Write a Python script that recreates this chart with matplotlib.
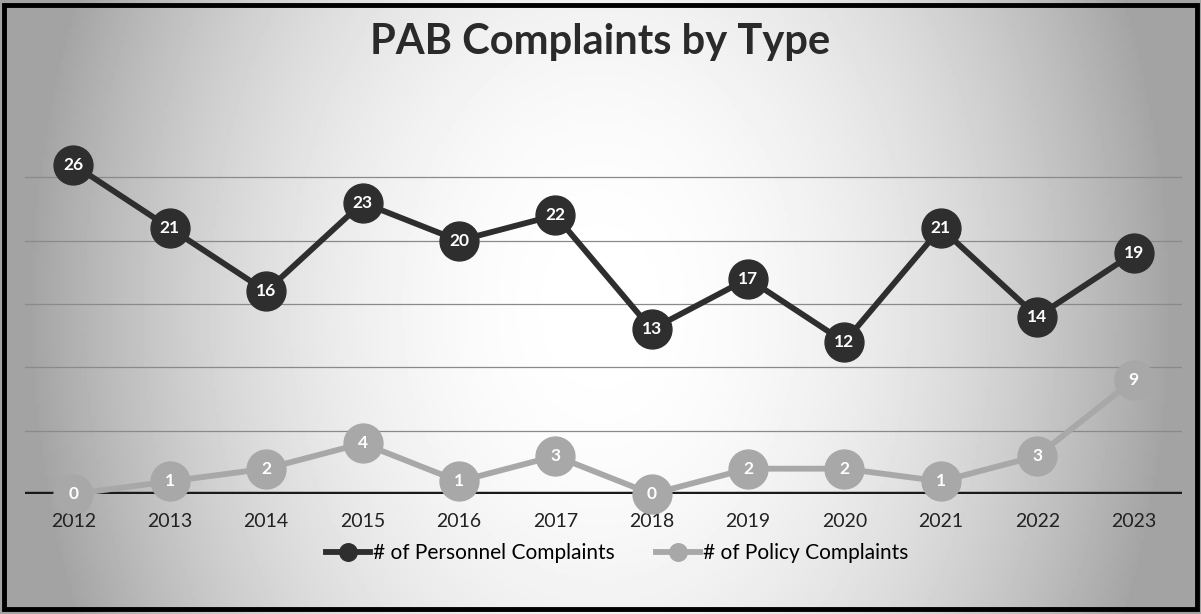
import numpy as np
import matplotlib.pyplot as plt
from matplotlib.patches import Rectangle

plt.rcParams['font.family'] = ['Lato', 'DejaVu Sans']

years = ['2012', '2013', '2014', '2015', '2016', '2017',
         '2018', '2019', '2020', '2021', '2022', '2023']
personnel = [26, 21, 16, 23, 20, 22, 13, 17, 12, 21, 14, 19]
policy = [0, 1, 2, 4, 1, 3, 0, 2, 2, 1, 3, 9]

dark = '#2e2e2e'
light = '#a8a8a8'

fig = plt.figure(figsize=(12.01, 6.14), dpi=100)

# background gradient (darker towards the edges, like the scanned chart)
bg = fig.add_axes([0, 0, 1, 1], zorder=0)
gx, gy = np.meshgrid(np.linspace(-1, 1, 400), np.linspace(-1, 1, 200))
shade = 1 - 0.36 * np.clip(np.abs(gx) ** 2.0 * 1.1 + 0.15 * np.abs(gy) ** 2, 0, 1)
bg.imshow(shade, cmap='gray', vmin=0, vmax=1, aspect='auto', extent=[0, 1, 0, 1])
bg.set_xlim(0, 1)
bg.set_ylim(0, 1)
bg.axis('off')
bg.add_patch(Rectangle((0.003, 0.008), 0.994, 0.984, fill=False,
                       edgecolor='black', linewidth=3.5))

ax = fig.add_axes([0.021, 0.1954, 0.963, 0.619], zorder=1)
ax.patch.set_alpha(0)
x = np.arange(len(years))

for v in [5, 10, 15, 20, 25]:
    ax.axhline(v, color='#8a8a8a', linewidth=0.9, zorder=1)
ax.axhline(0, color='#1a1a1a', linewidth=3.2, zorder=2)

ax.plot(x, personnel, color=dark, linewidth=4.2, marker='o', markersize=28,
        markerfacecolor=dark, markeredgecolor=dark, zorder=3, clip_on=False,
        label='# of Personnel Complaints')
ax.plot(x, policy, color=light, linewidth=4.2, marker='o', markersize=28,
        markerfacecolor=light, markeredgecolor=light, zorder=3, clip_on=False,
        label='# of Policy Complaints')

for xi, v in zip(x, personnel):
    ax.text(xi, v, str(v), ha='center', va='center', color='white',
            fontsize=12.5, fontweight='bold', zorder=4)
for xi, v in zip(x, policy):
    ax.text(xi, v, str(v), ha='center', va='center', color='white',
            fontsize=12.5, fontweight='bold', zorder=4)

ax.set_xlim(-0.5, len(years) - 0.5)
ax.set_ylim(0, 30)
ax.set_xticks(x)
ax.set_xticklabels(years, fontsize=14, color='#222222')
ax.tick_params(axis='x', length=0, pad=14)
ax.set_yticks([])
for s in ax.spines.values():
    s.set_visible(False)

fig.text(0.5, 0.932, 'PAB Complaints by Type', ha='center', va='center',
         fontsize=30, fontweight='bold', color='#2a2a2a')

fig.legend(loc='center', bbox_to_anchor=(0.514, 0.099), ncol=2, frameon=False,
           fontsize=15, markerscale=0.45, handlelength=2.1, columnspacing=2.0,
           handletextpad=0.15)

fig.savefig('out.png', dpi=100)
